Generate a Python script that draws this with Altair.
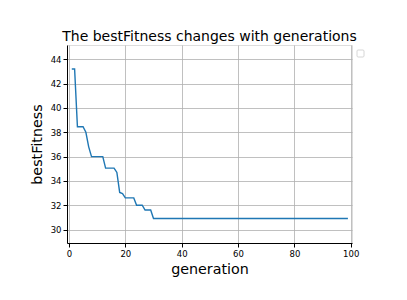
import altair as alt
import pandas as pd

generation = list(range(1, 100))
best_fitness = (
    [43.2, 43.2, 38.45, 38.45, 38.45, 38.0, 36.8, 36.0, 36.0, 36.0, 36.0, 36.0,
     35.05, 35.05, 35.05, 35.05, 34.7, 33.05, 32.95, 32.6, 32.6, 32.6, 32.6,
     32.0, 32.0, 32.0, 31.6, 31.6, 31.6]
    + [30.9] * 70
)
x_ticks = [0, 20, 40, 60, 80, 100]
y_ticks = [30, 32, 34, 36, 38, 40, 42, 44]

df = pd.DataFrame({"generation": generation, "bestFitness": best_fitness})

FONT = "DejaVu Sans"

line = alt.Chart(df).mark_line(color="#1f77b4", strokeWidth=1.4, interpolate="linear").encode(
    x=alt.X("generation:Q",
            scale=alt.Scale(domain=[-0.7, 100.45], nice=False, zero=False),
            axis=alt.Axis(values=x_ticks, title="generation", format="d",
                          titleFontSize=14.3, titleFont=FONT, titleFontWeight="normal",
                          titleColor="black", titlePadding=5,
                          labelFontSize=8.5, labelFont=FONT, labelColor="black",
                          labelPadding=2, tickSize=4, tickColor="black",
                          domainColor="black", gridColor="#b0b0b0", gridWidth=0.8)),
    y=alt.Y("bestFitness:Q",
            scale=alt.Scale(domain=[28.89, 45.18], nice=False, zero=False),
            axis=alt.Axis(values=y_ticks, title="bestFitness", format="d",
                          titleFontSize=14.3, titleFont=FONT, titleFontWeight="normal",
                          titleColor="black", titlePadding=6,
                          labelFontSize=8.5, labelFont=FONT, labelColor="black",
                          labelPadding=2, tickSize=4, tickColor="black",
                          domainColor="black", gridColor="#b0b0b0", gridWidth=0.8)),
)

legend_box = alt.Chart(pd.DataFrame({"k": [0]})).mark_rect(
    fill="white", stroke="#cccccc", strokeWidth=0.8, cornerRadius=1
).encode(
    x=alt.value(290), x2=alt.value(297), y=alt.value(5), y2=alt.value(12)
)

chart = (line + legend_box).properties(
    width=285,
    height=198,
    autosize=alt.AutoSizeParams(type="none"),
    padding={"left": 67, "top": 45, "right": 55, "bottom": 57},
    title=alt.Title("The bestFitness changes with generations", fontSize=14,
                    font=FONT, fontWeight="normal", color="black", offset=1),
).configure_view(stroke="black", strokeWidth=1).configure(background="white")

chart.save("out.html", embed_options={"renderer": "svg", "actions": False})
